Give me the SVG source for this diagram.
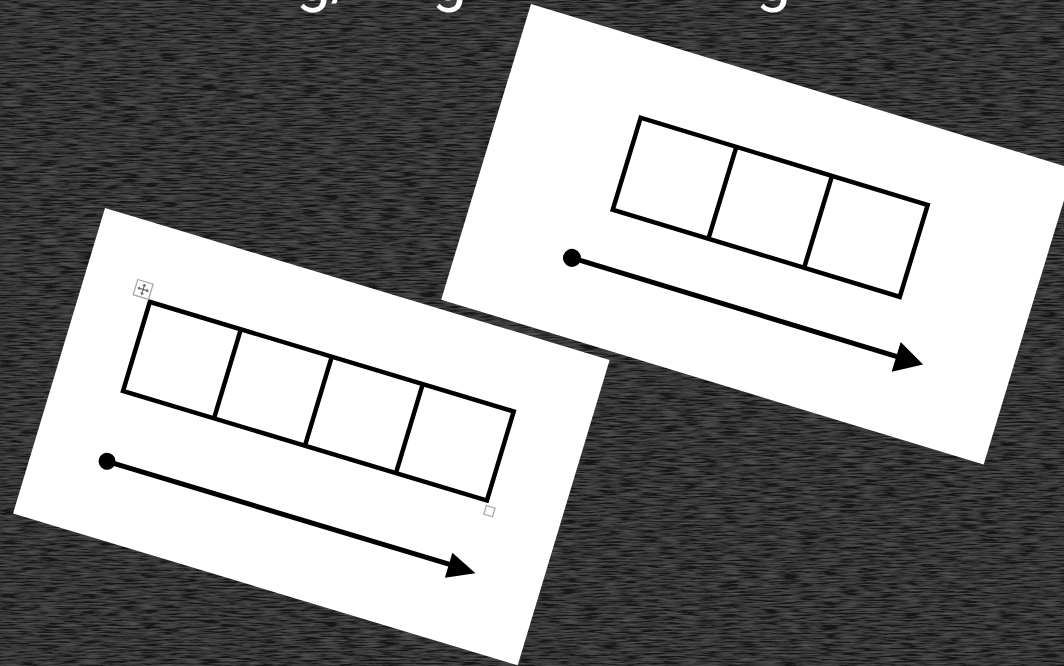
<svg xmlns="http://www.w3.org/2000/svg" width="1064" height="666" viewBox="0 0 1064 666">
  <defs>
    <filter id="chalk" x="0" y="0" width="100%" height="100%">
      <feTurbulence type="fractalNoise" baseFrequency="0.05 0.6" numOctaves="3" seed="7" result="n"/>
      <feColorMatrix in="n" type="matrix" values="0 0 0 0 1  0 0 0 0 1  0 0 0 0 1  0 0 0 0.14 -0.045" result="w"/>
      <feComposite in="w" in2="SourceGraphic" operator="over"/>
    </filter>
    <style>
      .card { fill: #ffffff; }
      .cell { fill: none; stroke: #000; stroke-width: 4.5; stroke-linejoin: miter; }
      .line { stroke: #000; stroke-width: 5; fill: none; }
      .head { fill: #000; }
      .title { font-family: Roboto, "DejaVu Sans", sans-serif; font-weight: 400; font-size: 62px; fill: #ffffff; }
      .handle { fill: #fff; stroke: #a8a8a8; stroke-width: 1.3; }
    </style>
  </defs>

  <g id="background">
    <rect x="0" y="0" width="1064" height="666" fill="#191919" filter="url(#chalk)"/>
  </g>

  <g id="title">
    <text class="title" x="296" y="0">g/</text>
    <text class="title" x="432" y="0">g</text>
    <text class="title" x="756" y="0">g</text>
  </g>

  <g id="card-back" transform="translate(531,4) rotate(16.9)">
    <rect class="card" x="0" y="0" width="567" height="309"/>
    <g id="table-3">
      <rect class="cell" x="138" y="77" width="300" height="96"/>
      <line class="cell" x1="238" y1="77" x2="238" y2="173"/>
      <line class="cell" x1="338" y1="77" x2="338" y2="173"/>
    </g>
    <g id="arrow-back">
      <circle cx="113" cy="231" r="9" fill="#000"/>
      <line class="line" x1="113" y1="231" x2="458" y2="231"/>
      <polygon class="head" points="480,231 452,216 452,247"/>
    </g>
  </g>

  <g id="card-front" transform="translate(105,208) rotate(16.75)">
    <rect class="card" x="0" y="0" width="527" height="319"/>
    <g id="table-4">
      <rect class="cell" x="70" y="77" width="380" height="93"/>
      <line class="cell" x1="165" y1="77" x2="165" y2="170"/>
      <line class="cell" x1="260" y1="77" x2="260" y2="170"/>
      <line class="cell" x1="355" y1="77" x2="355" y2="170"/>
    </g>
    <g id="handles">
      <rect class="handle" x="52" y="59" width="16" height="16"/>
      <g stroke="#666" stroke-width="1.2" fill="#666">
        <line x1="55" y1="67" x2="65" y2="67"/>
        <line x1="60" y1="62" x2="60" y2="72"/>
        <polygon points="60,61 58,63.5 62,63.5" stroke="none"/>
        <polygon points="60,73 58,70.5 62,70.5" stroke="none"/>
        <polygon points="54,67 56.5,65 56.5,69" stroke="none"/>
        <polygon points="66,67 63.5,65 63.5,69" stroke="none"/>
      </g>
      <rect class="handle" x="451" y="175" width="9" height="9"/>
    </g>
    <g id="arrow-front">
      <circle cx="75" cy="242" r="8.5" fill="#000"/>
      <line class="line" x1="75" y1="242" x2="438" y2="242"/>
      <polygon class="head" points="460,243 432,230 432,256"/>
    </g>
  </g>
</svg>
